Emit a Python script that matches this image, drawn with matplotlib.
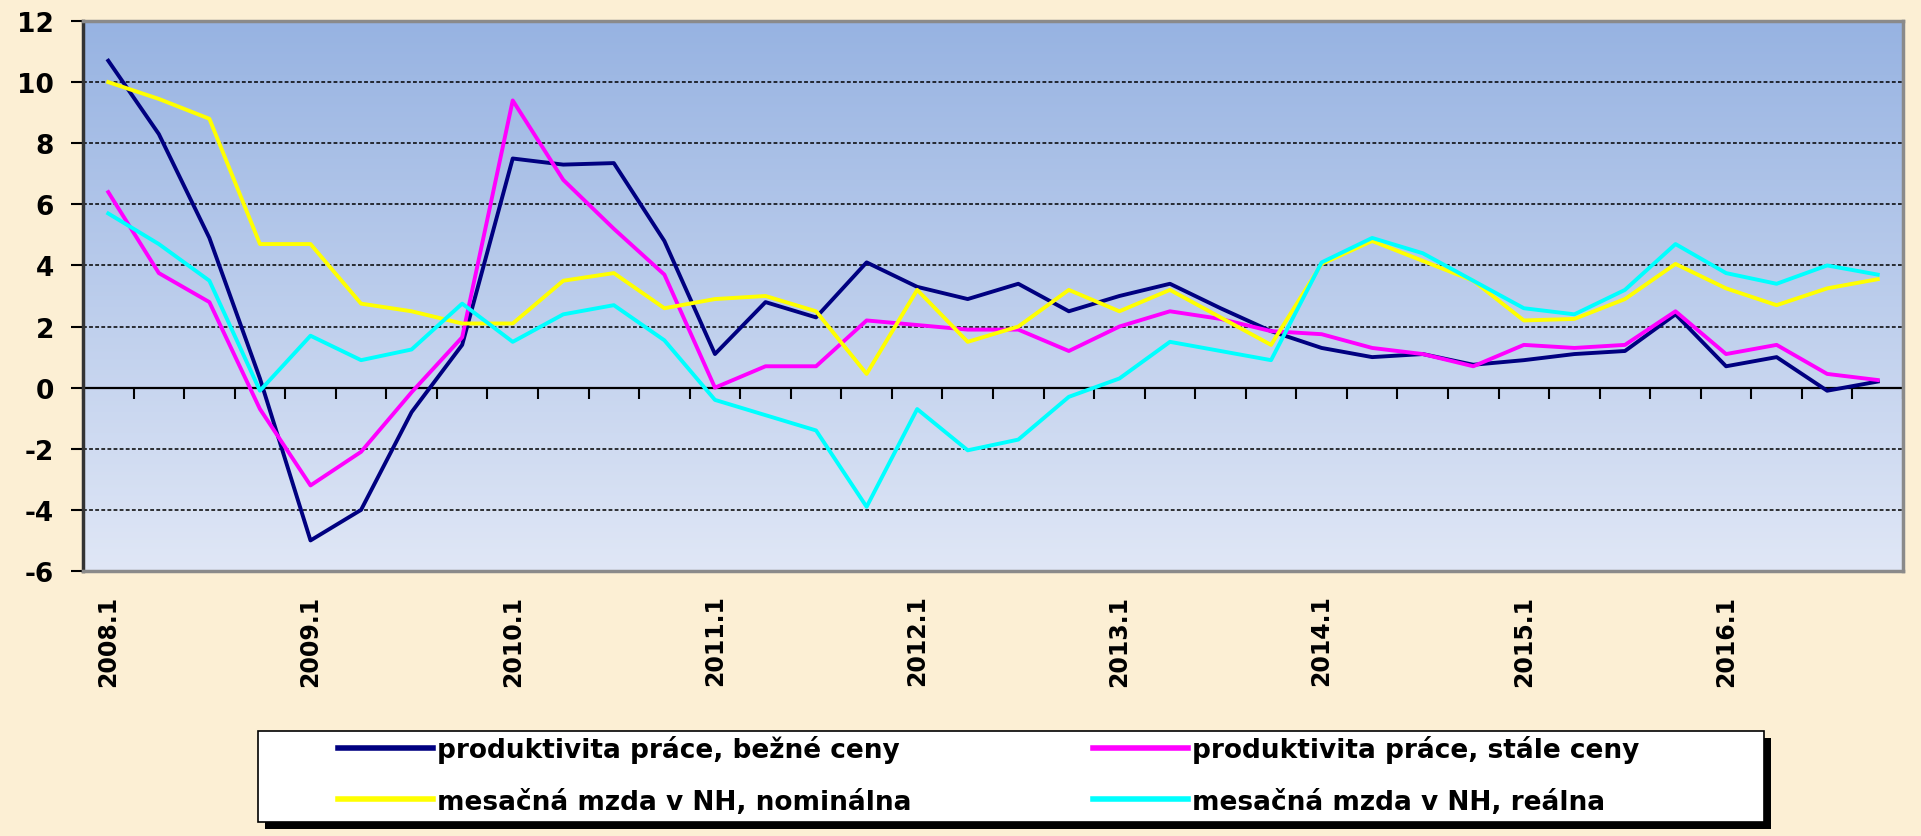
import matplotlib
matplotlib.use("Agg")
import matplotlib.pyplot as plt
import numpy as np
from matplotlib.colors import LinearSegmentedColormap
from matplotlib.patches import Rectangle


# štvrťroky 2008.1 - 2016.4
QUARTERS = [f"{y}.{q}" for y in range(2008, 2017) for q in range(1, 5)]

prod_bezne = [10.7, 8.3, 4.9, 0.3, -5.0, -4.0, -0.8, 1.4, 7.5, 7.3, 7.35, 4.8,
              1.1, 2.8, 2.3, 4.1, 3.3, 2.9, 3.4, 2.5, 3.0, 3.4, 2.6, 1.85,
              1.3, 1.0, 1.1, 0.75, 0.9, 1.1, 1.2, 2.4, 0.7, 1.0, -0.1, 0.2]
prod_stale = [6.4, 3.75, 2.8, -0.7, -3.2, -2.1, -0.15, 1.65, 9.4, 6.8, 5.2, 3.7,
              0.0, 0.7, 0.7, 2.2, 2.05, 1.9, 1.9, 1.2, 2.0, 2.5, 2.25, 1.85,
              1.75, 1.3, 1.1, 0.7, 1.4, 1.3, 1.4, 2.5, 1.1, 1.4, 0.45, 0.25]
mzda_nom = [10.0, 9.45, 8.8, 4.7, 4.7, 2.75, 2.5, 2.1, 2.1, 3.5, 3.75, 2.6,
            2.9, 3.0, 2.5, 0.45, 3.2, 1.5, 2.0, 3.2, 2.5, 3.2, 2.3, 1.4,
            4.05, 4.8, 4.15, 3.5, 2.2, 2.25, 2.9, 4.05, 3.25, 2.7, 3.25, 3.55]
mzda_real = [5.7, 4.7, 3.5, -0.1, 1.7, 0.9, 1.25, 2.75, 1.5, 2.4, 2.7, 1.55,
             -0.4, -0.9, -1.4, -3.9, -0.7, -2.05, -1.7, -0.3, 0.3, 1.5, 1.2, 0.9,
             4.1, 4.9, 4.4, 3.5, 2.6, 2.4, 3.2, 4.7, 3.75, 3.4, 4.0, 3.7]

SERIES = [
    ("produktivita práce, bežné ceny", prod_bezne, "#000080"),
    ("produktivita práce, stále ceny", prod_stale, "#ff00ff"),
    ("mesačná mzda v NH, nominálna", mzda_nom, "#ffff00"),
    ("mesačná mzda v NH, reálna", mzda_real, "#00ffff"),
]

BG = "#fcefd4"
W, H = 1921, 837

plt.rcParams["font.family"] = "DejaVu Sans"
plt.rcParams["font.weight"] = "bold"
plt.rcParams["axes.unicode_minus"] = False

fig = plt.figure(figsize=(W / 100, H / 100), dpi=100, facecolor=BG)
ax = fig.add_axes([83 / W, 1 - 572 / H, (1903 - 83) / W, (572 - 22) / H])

# modrý prechod v pozadí grafu
cmap = LinearSegmentedColormap.from_list("bg", ["#e0e7f6", "#97b3e2"])
grad = np.linspace(0, 1, 256).reshape(-1, 1)
ax.imshow(grad, cmap=cmap, origin="lower", extent=[0, 1, 0, 1],
          transform=ax.transAxes, aspect="auto", zorder=0)

x = np.arange(len(QUARTERS))
lines = {}
for label, vals, color in SERIES:
    (ln,) = ax.plot(x, vals, color=color, lw=2.8, label=label, zorder=3)
    lines[label] = ln

ax.set_xlim(-0.5, len(QUARTERS) - 0.5)
ax.set_ylim(-6, 12)

# mriežka - len vnútorné čiary
for yv in [-4, -2, 2, 4, 6, 8, 10]:
    ax.axhline(yv, color="black", lw=1.1, ls=(0, (2.5, 1.5)), zorder=1)

ax.set_yticks(np.arange(-6, 13, 2))
ax.tick_params(axis="y", direction="out", length=9, width=1.5,
               labelsize=19, pad=12, colors="black")

ax.set_xticks(x[::4])
ax.set_xticklabels(QUARTERS[::4], rotation=90, fontsize=17)
ax.tick_params(axis="x", length=0, pad=17)

for side in ["top", "right", "bottom"]:
    ax.spines[side].set_color("#8a8a8a")
    ax.spines[side].set_linewidth(2.5)
ax.spines["left"].set_color("#333333")
ax.spines["left"].set_linewidth(2.5)

# os kategórií pri nule s malými značkami
sec = ax.secondary_xaxis(1 / 3)
sec.set_xticks(np.arange(-0.5, len(QUARTERS), 1))
sec.tick_params(direction="out", length=8, width=1.5, labelbottom=False,
                labeltop=False)
sec.spines["bottom"].set_color("black")
sec.spines["bottom"].set_linewidth(1.6)
sec.spines["top"].set_visible(False)

# rámik legendy s tieňom
fig.patches.append(Rectangle((265 / W, 1 - 830 / H), (1764 - 258) / W, (823 - 732) / H,
                             transform=fig.transFigure, facecolor="black",
                             edgecolor="none", zorder=0))
fig.patches.append(Rectangle((258 / W, 1 - 823 / H), (1764 - 258) / W, (823 - 732) / H,
                             transform=fig.transFigure, facecolor="white",
                             edgecolor="black", lw=1.2, zorder=1))

leg_kw = dict(frameon=False, fontsize=19, handlelength=3.6, handletextpad=0.15,
              borderpad=0, borderaxespad=0, labelspacing=0.95, loc="center left")
col1 = [SERIES[0][0], SERIES[2][0]]
col2 = [SERIES[1][0], SERIES[3][0]]
leg1 = fig.legend([lines[n] for n in col1], col1,
                  bbox_to_anchor=(338 / W, 1 - 776 / H), **leg_kw)
leg2 = fig.legend([lines[n] for n in col2], col2,
                  bbox_to_anchor=(1093 / W, 1 - 776 / H), **leg_kw)
for leg in (leg1, leg2):
    for h in leg.legend_handles:
        h.set_linewidth(4)

fig.savefig("out.png", dpi=100, facecolor=BG)
